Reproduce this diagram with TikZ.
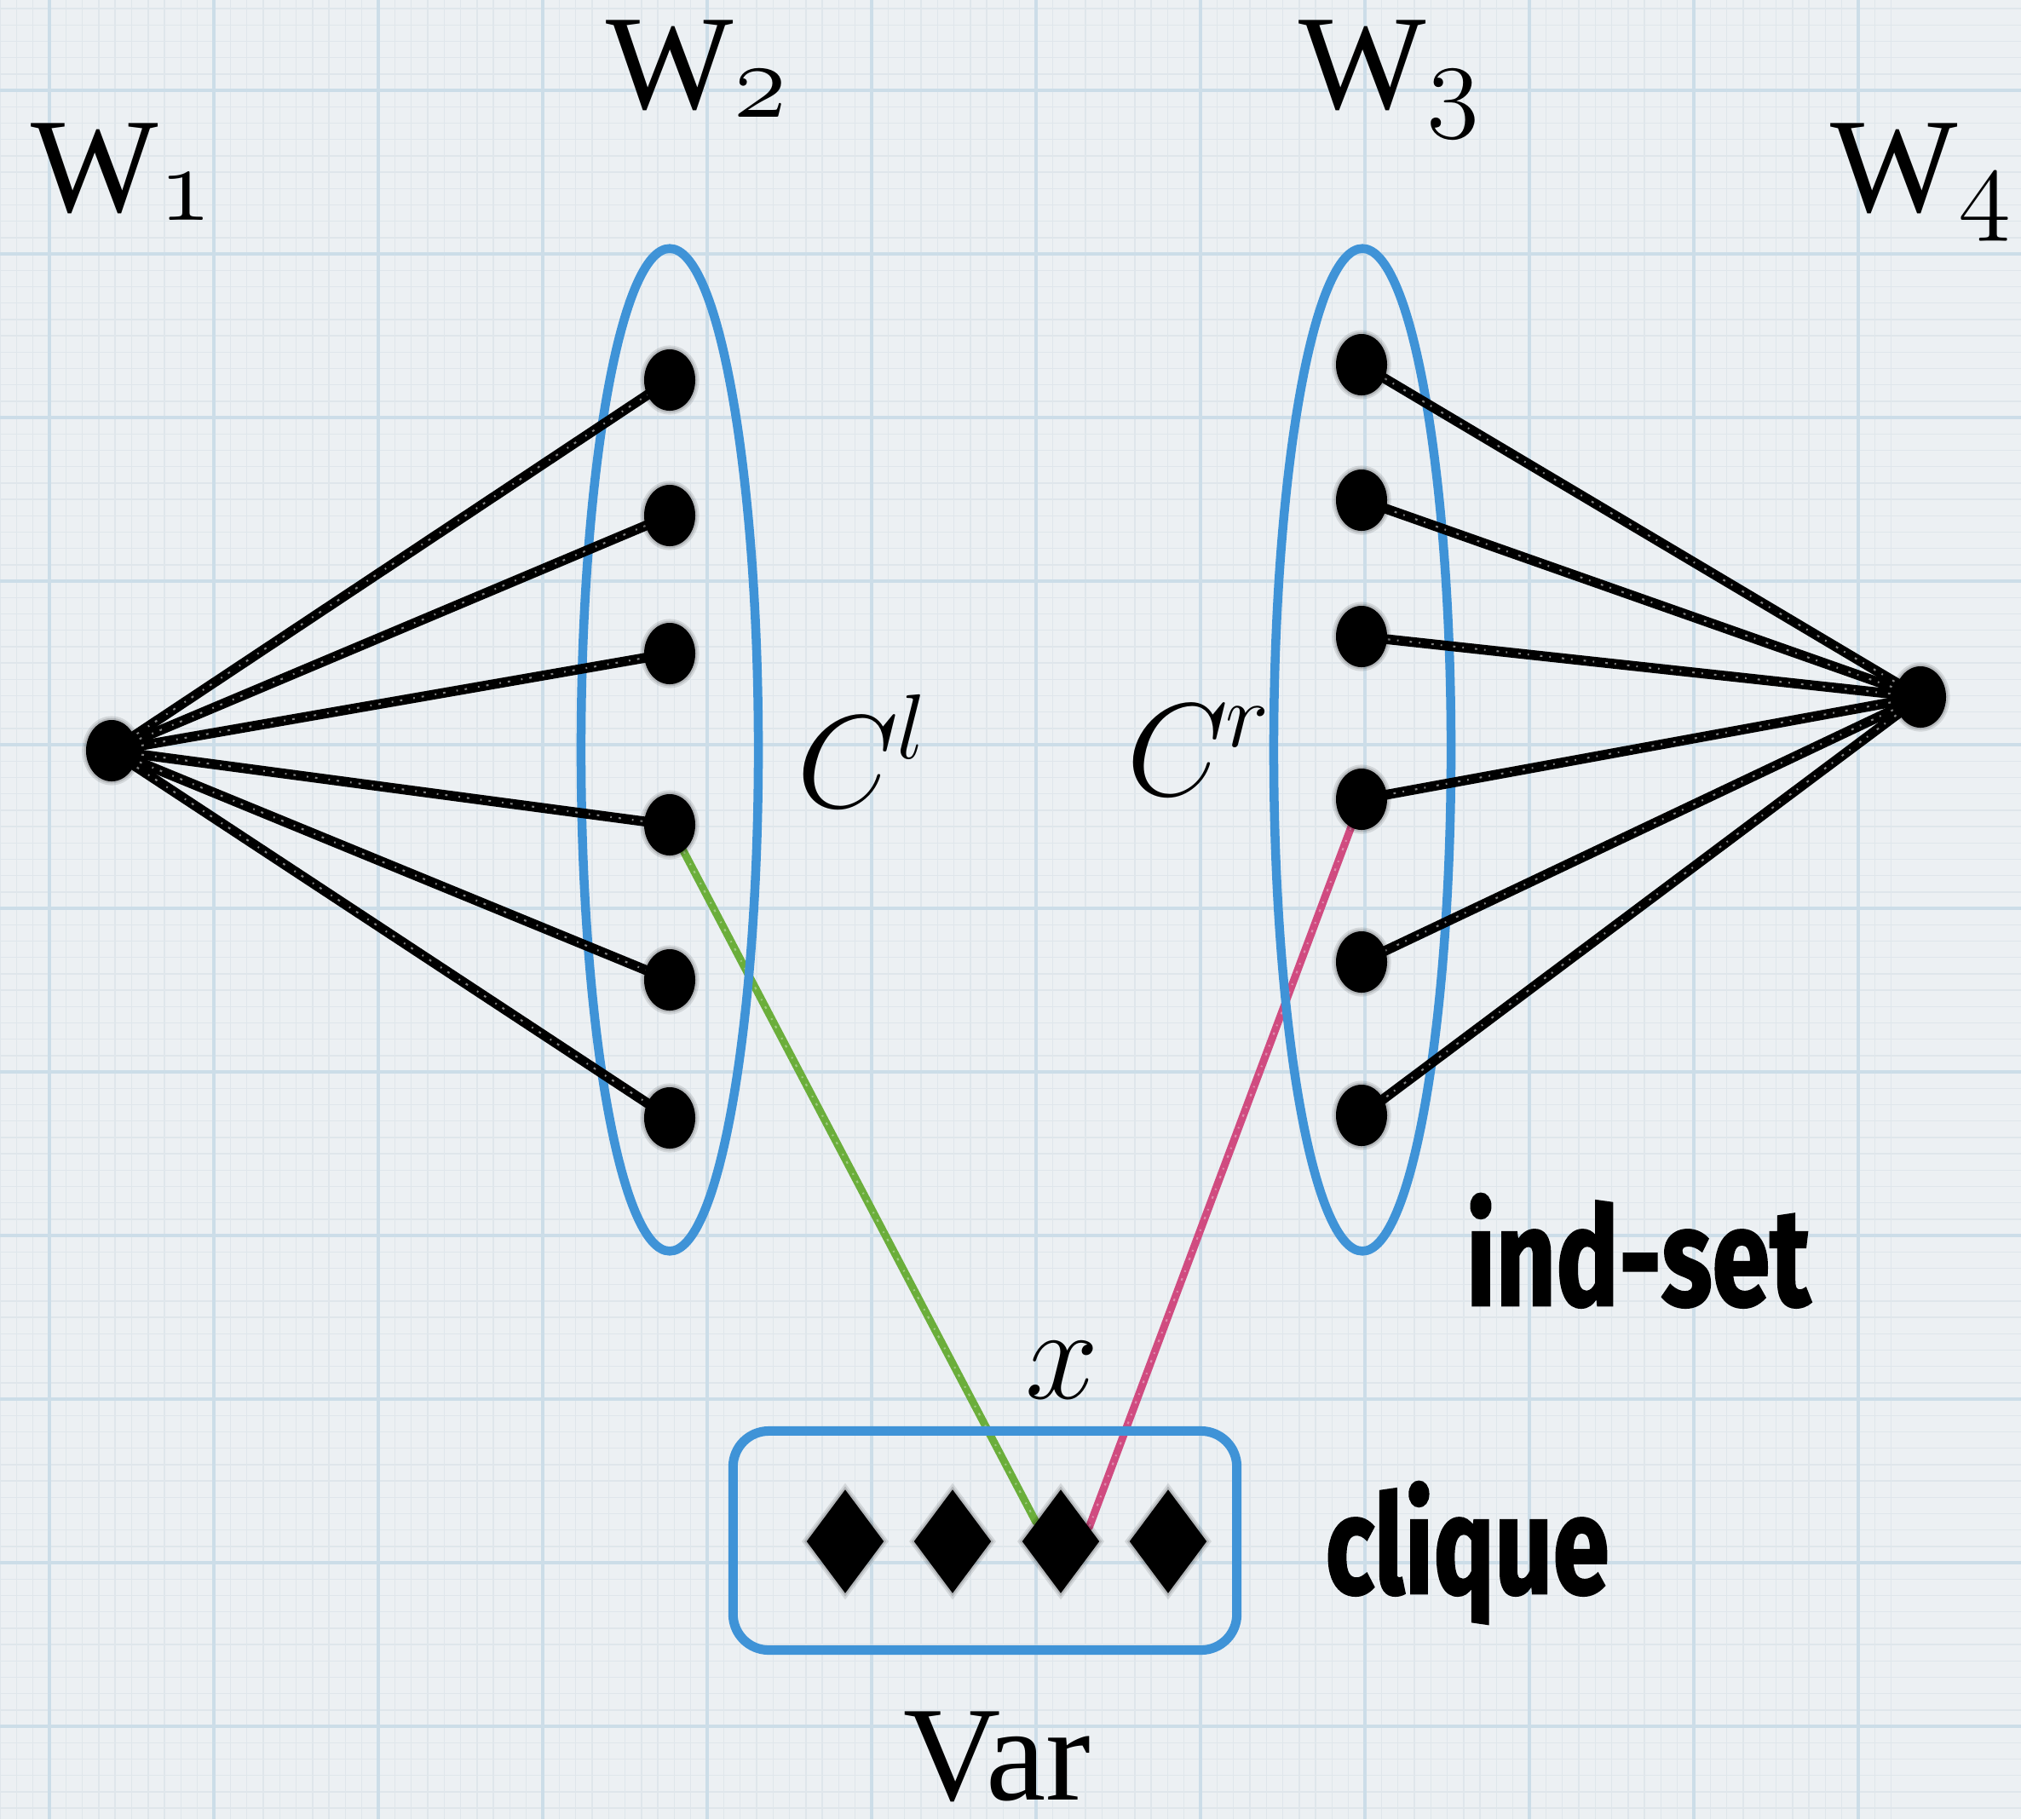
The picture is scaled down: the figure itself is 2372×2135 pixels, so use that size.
\RequirePackage{fix-cm}
\documentclass[tikz,border=0pt]{standalone}
\usepackage{fontspec}
\newfontfamily\markfont{Fira Sans}[BoldFeatures={FakeBold=1.6}]
\newfontfamily\labelfont{Liberation Serif}
\usetikzlibrary{shapes.geometric}

\definecolor{paper}{HTML}{ECF0F3}
\definecolor{gridmajor}{HTML}{CCDDE8}
\definecolor{gridminor}{HTML}{DFE6EB}
\definecolor{setblue}{HTML}{3F93D7}
\definecolor{litgreen}{HTML}{6BAE3B}
\definecolor{litpink}{HTML}{D04B80}

% level label: W with a lowered old-style digit
\newcommand\wlabel[1]{W\raisebox{-2.9pt}{\fontsize{36}{36}\usefont{OML}{cmm}{m}{it}#1}}

\pgfdeclarelayer{paperlayer}
\pgfdeclarelayer{litlayer}
\pgfdeclarelayer{setlayer}
\pgfdeclarelayer{edgelayer}
\pgfsetlayers{paperlayer,litlayer,setlayer,edgelayer,main}

\begin{document}
\begin{tikzpicture}[x=0.01cm, y=-0.01cm,
  halo/.style={preaction={draw=black, draw opacity=0.10, line width=2.6pt},
               preaction={draw=black, draw opacity=0.14, line width=1.3pt}},
  vertex/.style={ellipse, fill=black, inner sep=0pt, halo,
    minimum width=0.6cm, minimum height=0.72cm},
  gem/.style={diamond, fill=black, inner sep=0pt, halo,
    minimum width=0.91cm, minimum height=1.22cm},
  setoval/.style={ellipse, draw=setblue, line width=0.105cm, inner sep=0pt,
    minimum width=2.08cm, minimum height=11.76cm},
  varbox/.style={rectangle, draw=setblue, line width=0.11cm, inner sep=0pt,
    rounded corners=0.42cm, minimum width=5.91cm, minimum height=2.57cm},
  chalk/.style={line width=0.115cm, line cap=round},
  speckle/.style={draw=white, draw opacity=0.5, line width=0.6pt,
    dash pattern=on 0.5pt off 2.3pt on 0.8pt off 3.7pt},
  serif/.style={inner sep=0pt, anchor=base west, font=\labelfont\fontsize{45}{45}\selectfont},
  mathlabel/.style={inner sep=0pt, anchor=base west, font=\fontsize{44}{44}\selectfont},
  marker/.style={inner sep=0pt, anchor=base west, font=\markfont\bfseries\fontsize{46}{46}\selectfont}
]
\useasboundingbox (0,0) rectangle (2372,2135);

% graph paper
\begin{pgfonlayer}{paperlayer}
  \fill[paper] (0,0) rectangle (2372,2135);
  \foreach \i in {7,...,122} {
    \draw[gridminor, line width=0.4pt] ({-135+19.3*\i},0) -- ++(0,2135);
  }
  \foreach \i in {5,...,115} {
    \draw[gridminor, line width=0.4pt] (0,{-86+19.2*\i}) -- ++(2372,0);
  }
  \foreach \i in {0,...,12} {
    \draw[gridmajor, line width=0.9pt] ({58+193*\i},0) -- ++(0,2135);
  }
  \foreach \i in {0,...,11} {
    \draw[gridmajor, line width=0.9pt] (0,{106+192*\i}) -- ++(2372,0);
  }
\end{pgfonlayer}

% vertices
\node[vertex] (w1) at (131,881) {};
\node[vertex] (w4) at (2254,818) {};
\foreach \n/\y in {1/446,2/605,3/767,4/968,5/1150,6/1312} {
  \node[vertex] (l\n) at (786,\y) {};
}
\foreach \n/\y in {1/428,2/587,3/747,4/938,5/1129,6/1309} {
  \node[vertex] (r\n) at (1598,\y) {};
}
\foreach \n/\x in {1/992,2/1118,3/1245,4/1371} {
  \node[gem] (d\n) at (\x,1809) {};
}

% the two clause sets and the variable box
\begin{pgfonlayer}{setlayer}
  \node[setoval] (cl) at (786,880) {};
  \node[setoval] (cr) at (1599,880) {};
  \node[varbox] (var) at (1156,1808) {};
\end{pgfonlayer}

% edges, with a light chalk speckle
\begin{pgfonlayer}{edgelayer}
  \foreach \n in {1,...,6} {
    \draw[chalk] (w1.center) -- (l\n.center);
    \draw[chalk] (w4.center) -- (r\n.center);
    \draw[speckle] (w1.center) -- (l\n.center);
    \draw[speckle] (w4.center) -- (r\n.center);
  }
\end{pgfonlayer}
\begin{pgfonlayer}{litlayer}
  \draw[chalk, litgreen, line width=0.09cm] (l4.center) -- (d3.142);
  \draw[chalk, litpink, line width=0.09cm] (r4.center) -- (d3.27);
  \draw[speckle, draw opacity=0.35] (l4.center) -- (d3.142);
  \draw[speckle, draw opacity=0.35] (r4.center) -- (d3.27);
\end{pgfonlayer}

% labels
\node[serif] (t1) at (36,248) {\wlabel{1}};
\node[serif] (t2) at (711,127) {\wlabel{2}};
\node[serif] (t3) at (1524,127) {\wlabel{3}};
\node[serif] (t4) at (2148,248) {\wlabel{4}};
\node[mathlabel] (tcl) at (935,947) {$C^{\kern-0.8pt l}$};
\node[mathlabel] (tcr) at (1322,933) {$C^{\kern-1pt r}$};
\node[mathlabel] (tx) at (1203,1641) {$x$};
\node[serif] (tvar) at (1060,2112) {Var};
\node[marker] (tind) at (1720,1532) {\scalebox{0.76}[1]{ind-set}};
\node[marker] (tcli) at (1555,1870) {\scalebox{0.74}[1]{clique}};
\end{tikzpicture}
\end{document}
